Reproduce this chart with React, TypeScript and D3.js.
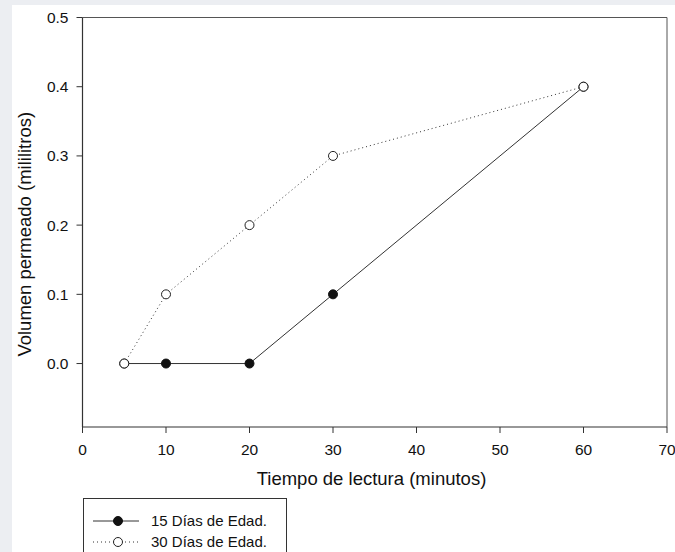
import React from "react";
import * as d3 from "d3";

const series15X = [5, 10, 20, 30, 60];
const series15Y = [0, 0, 0, 0.1, 0.4];
const series30X = [5, 10, 20, 30, 60];
const series30Y = [0, 0.1, 0.2, 0.3, 0.4];
const xTicks = [0, 10, 20, 30, 40, 50, 60, 70];
const yTicks = [0, 0.1, 0.2, 0.3, 0.4, 0.5];
const legendLabels = ["15 Días de Edad.", "30 Días de Edad."];
const xTitle = "Tiempo de lectura (minutos)";
const yTitle = "Volumen permeado (mililitros)";

const W = 675;
const H = 552;
const L = 82.5, R = 667, T = 17.5, B = 427;

export default function App() {
  const x = d3.scaleLinear().domain([0, 70]).range([L, R]);
  const y = d3.scaleLinear().domain([-0.0917, 0.5]).range([B, T]);
  const line = d3.line<[number, number]>().x(d => x(d[0])).y(d => y(d[1]));
  const d15 = series15X.map((v, i) => [v, series15Y[i]] as [number, number]);
  const d30 = series30X.map((v, i) => [v, series30Y[i]] as [number, number]);
  const font = "Arial, 'Liberation Sans', sans-serif";
  return (
    <div style={{ position: "fixed", left: 0, top: 0 }}>
      <svg width={W} height={H} style={{ display: "block" }}>
        <rect x={0} y={0} width={W} height={H} fill="#eceef2" />
        <rect x={12} y={5} width={W - 12} height={H - 5} fill="#ffffff" />
        {/* frame */}
        <line x1={L} x2={R} y1={T} y2={T} stroke="#555" strokeWidth={1} />
        <line x1={R} x2={R} y1={T} y2={B} stroke="#555" strokeWidth={1} />
        <line x1={L} x2={L} y1={T} y2={B} stroke="#333" strokeWidth={1.2} />
        <line x1={L} x2={R} y1={B} y2={B} stroke="#333" strokeWidth={1.2} />
        {yTicks.map(t => (
          <g key={"y" + t}>
            <line x1={L - 6} x2={L} y1={y(t)} y2={y(t)} stroke="#333" />
            <text x={L - 14} y={y(t) + 5.5} textAnchor="end" fontSize={15.5} fontFamily={font} fill="#111">
              {t.toFixed(1)}
            </text>
          </g>
        ))}
        {xTicks.map(t => (
          <g key={"x" + t}>
            <line x1={x(t)} x2={x(t)} y1={B} y2={B + 6} stroke="#333" />
            <text x={x(t)} y={455} textAnchor="middle" fontSize={15.5} fontFamily={font} fill="#111">
              {t}
            </text>
          </g>
        ))}
        <text x={371.5} y={485} textAnchor="middle" fontSize={18.5} fontFamily={font} fill="#111">
          {xTitle}
        </text>
        <text transform={`translate(31, ${(T + B) / 2 + 12}) rotate(-90)`} textAnchor="middle" fontSize={18.5} fontFamily={font} fill="#111">
          {yTitle}
        </text>
        {/* series lines */}
        <path d={line(d30) || ""} fill="none" stroke="#333" strokeWidth={1} strokeDasharray="1,3" />
        <path d={line(d15) || ""} fill="none" stroke="#333" strokeWidth={1} />
        {d15.map((p, i) => (
          <circle key={"a" + i} cx={x(p[0])} cy={y(p[1])} r={4.5} fill="#111" stroke="#111" />
        ))}
        {d30.map((p, i) => (
          <circle key={"b" + i} cx={x(p[0])} cy={y(p[1])} r={4.5} fill="#fff" stroke="#222" strokeWidth={1} />
        ))}
        {/* legend */}
        <rect x={83.5} y={498.5} width={203} height={70} fill="#fff" stroke="#333" strokeWidth={1} />
        <line x1={93} x2={139} y1={521} y2={521} stroke="#333" />
        <circle cx={118} cy={521} r={4.5} fill="#111" stroke="#111" />
        <text x={151} y={526} fontSize={15} fontFamily={font} fill="#111">{legendLabels[0]}</text>
        <line x1={93} x2={139} y1={542} y2={542} stroke="#333" strokeDasharray="1,3" />
        <circle cx={118} cy={542} r={4.5} fill="#fff" stroke="#222" />
        <text x={151} y={547} fontSize={15} fontFamily={font} fill="#111">{legendLabels[1]}</text>
      </svg>
    </div>
  );
}
